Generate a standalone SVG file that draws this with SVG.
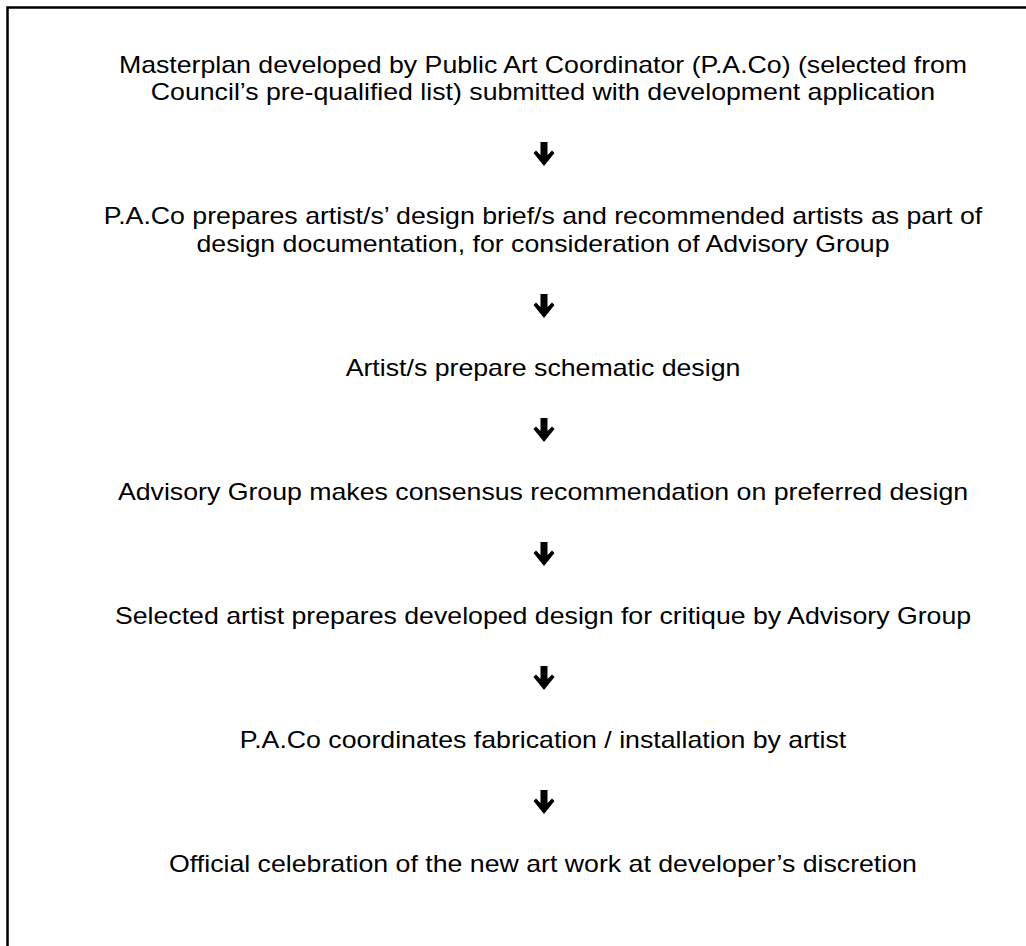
<svg xmlns="http://www.w3.org/2000/svg" width="1026" height="946" viewBox="0 0 1026 946">
<style>
.t{font-family:"Liberation Sans",Arial,sans-serif;font-size:24px;fill:#000;text-anchor:middle}
</style>
<defs>
<path id="arr" d="M-3.5,-12 H3.5 V1 L8,-3.5 L10.5,-1 L0,12 L-10.5,-1 L-8,-3.5 L-3.5,1 Z" fill="#000"/>
</defs>
<rect x="0" y="0" width="1026" height="946" fill="#fff"/>
<rect x="7.5" y="7.5" width="1100" height="1000" fill="none" stroke="#000" stroke-width="2.5"/>
<g transform="translate(543,0) scale(1.113,1)">
<g id="n1"><text class="t" x="0" y="73">Masterplan developed by Public Art Coordinator (P.A.Co) (selected from</text><text class="t" x="0" y="100.5">Council’s pre-qualified list) submitted with development application</text></g>
<g id="n2"><text class="t" x="0" y="224.5">P.A.Co prepares artist/s’ design brief/s and recommended artists as part of</text><text class="t" x="0" y="252">design documentation, for consideration of Advisory Group</text></g>
<g id="n3"><text class="t" x="0" y="376.5">Artist/s prepare schematic design</text></g>
<g id="n4"><text class="t" x="0" y="500.5">Advisory Group makes consensus recommendation on preferred design</text></g>
<g id="n5"><text class="t" x="0" y="624.5">Selected artist prepares developed design for critique by Advisory Group</text></g>
<g id="n6"><text class="t" x="0" y="748.5">P.A.Co coordinates fabrication / installation by artist</text></g>
<g id="n7"><text class="t" x="0" y="872.5">Official celebration of the new art work at developer’s discretion</text></g>
</g>
<g id="connectors">
<use href="#arr" x="544" y="154"/>
<use href="#arr" x="544" y="306"/>
<use href="#arr" x="544" y="430"/>
<use href="#arr" x="544" y="554"/>
<use href="#arr" x="544" y="678"/>
<use href="#arr" x="544" y="802"/>
</g>
</svg>
